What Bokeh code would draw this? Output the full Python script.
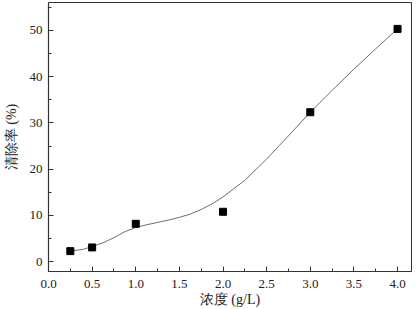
from bokeh.plotting import figure
from bokeh.models import Range1d, FixedTicker
from bokeh.embed import file_html
from bokeh.resources import INLINE

# measured data (concentration g/L, removal %)
conc = [0.25, 0.5, 1.0, 2.0, 3.0, 4.0]
removal = [2.3, 3.1, 8.2, 10.8, 32.3, 50.3]

# smooth fitted curve
curve_x = [0.25, 0.4, 0.5, 0.625, 0.75, 0.875, 1.0, 1.125, 1.25, 1.375, 1.5,
           1.625, 1.75, 1.875, 2.0, 2.25, 2.5, 2.75, 3.0, 3.25, 3.5, 3.75, 4.0]
curve_y = [2.3, 2.7, 3.3, 4.1, 5.2, 6.5, 7.4, 8.0, 8.5, 9.0, 9.6,
           10.3, 11.3, 12.5, 14.0, 17.6, 22.2, 27.2, 32.3, 37.0, 41.6, 46.0, 50.3]

x_ticks = [0.0, 0.5, 1.0, 1.5, 2.0, 2.5, 3.0, 3.5, 4.0]
y_ticks = [0, 10, 20, 30, 40, 50]

SERIF = "Liberation Serif"

p = figure(width=417, height=309, output_backend="svg", toolbar_location=None,
           x_range=Range1d(0.0, 4.16), y_range=Range1d(-2.1, 56),
           min_border_left=44, min_border_right=6, min_border_top=2,
           min_border_bottom=36)
p.background_fill_color = "white"
p.border_fill_color = "white"
p.grid.visible = False
p.outline_line_color = "#333333"
p.outline_line_width = 1

p.line(curve_x, curve_y, line_color="#6e6e6e", line_width=1)
p.scatter(conc, removal, marker="square", size=7, fill_color="black",
          line_color="black")

for ax in (p.xaxis[0], p.yaxis[0]):
    ax.major_tick_in = 5
    ax.major_tick_out = 0
    ax.minor_tick_in = 3
    ax.minor_tick_out = 0
    ax.axis_line_color = "#333333"
    ax.axis_line_width = 1.2
    ax.major_tick_line_color = "#333333"
    ax.minor_tick_line_color = "#333333"
    ax.major_label_text_font = SERIF
    ax.major_label_text_font_size = "13px"
    ax.major_label_text_color = "#222222"
    ax.axis_label_text_font = SERIF
    ax.axis_label_text_font_size = "14px"
    ax.axis_label_text_font_style = "normal"
    ax.axis_label_text_color = "#222222"

p.xaxis.ticker = FixedTicker(ticks=x_ticks,
                             minor_ticks=[0.25 + 0.5 * i for i in range(8)])
p.yaxis.ticker = FixedTicker(ticks=y_ticks,
                             minor_ticks=[5 + 10 * i for i in range(6)])
p.xaxis.major_label_overrides = {t: f"{t:.1f}" for t in x_ticks}
p.xaxis.axis_label = "浓度 (g/L)"
p.yaxis.axis_label = "清除率 (%)"
p.xaxis.major_label_standoff = 8
p.xaxis.axis_label_standoff = 1
p.yaxis.major_label_standoff = 6
p.yaxis.axis_label_standoff = 8

open("out.html", "w").write(file_html(p, INLINE))
